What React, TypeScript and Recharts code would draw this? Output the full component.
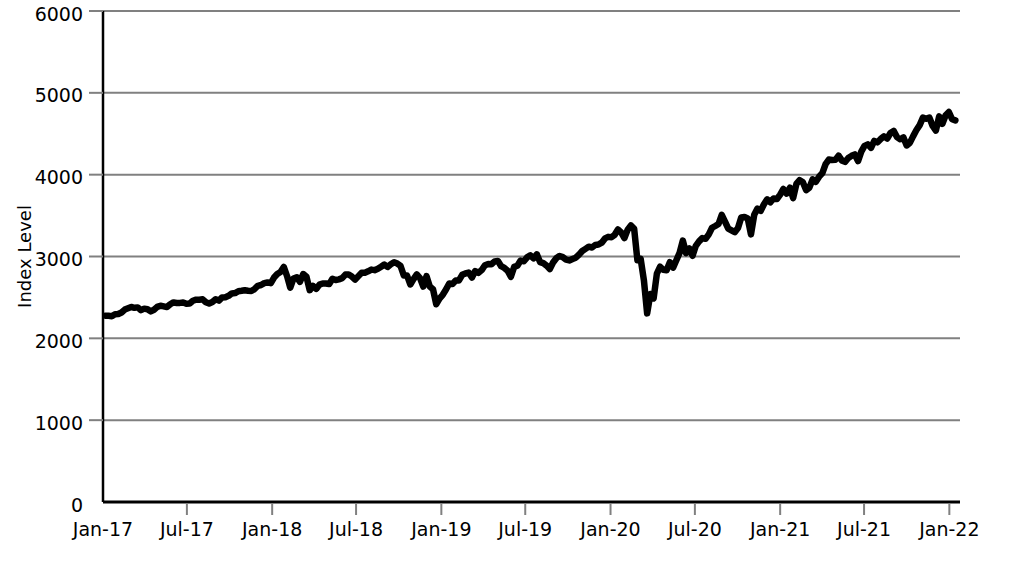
import { LineChart, Line, XAxis, YAxis, CartesianGrid, Label } from "recharts";

// Weekly closes (Friday), first week of each year listed first
const closes2017 = [
  2277, 2275, 2271, 2295, 2297, 2316, 2351, 2367, 2383, 2373, 2378, 2344, 2363,
  2356, 2329, 2349, 2384, 2399, 2391, 2382, 2416, 2439, 2432, 2433, 2438, 2423,
  2425, 2459, 2473, 2472, 2477, 2441, 2425, 2443, 2477, 2461, 2500, 2502, 2519,
  2549, 2553, 2575, 2581, 2588, 2582, 2579, 2602, 2642, 2652, 2675, 2683, 2674,
];
const closes2018 = [
  2743, 2786, 2810, 2873, 2762, 2620, 2732, 2747, 2691, 2786, 2752, 2588, 2641,
  2604, 2656, 2670, 2670, 2663, 2728, 2713, 2721, 2735, 2779, 2780, 2755, 2718,
  2760, 2801, 2802, 2819, 2840, 2833, 2850, 2875, 2902, 2872, 2905, 2930, 2914,
  2885, 2767, 2768, 2658, 2723, 2781, 2736, 2633, 2760, 2633, 2600, 2417, 2486,
];
const closes2019 = [
  2532, 2596, 2671, 2665, 2707, 2708, 2776, 2793, 2804, 2743, 2822, 2800, 2834,
  2893, 2907, 2905, 2940, 2946, 2881, 2860, 2826, 2752, 2873, 2887, 2950, 2942,
  2990, 3014, 2977, 3026, 2932, 2919, 2889, 2847, 2926, 2979, 3007, 2992, 2962,
  2952, 2970, 2986, 3023, 3067, 3093, 3120, 3110, 3141, 3146, 3169, 3221, 3240,
];
const closes2020 = [
  3235, 3265, 3330, 3295, 3226, 3328, 3380, 3338, 2954, 2972, 2711, 2305, 2541,
  2489, 2790, 2875, 2837, 2831, 2930, 2864, 2955, 3044, 3194, 3041, 3098, 3009,
  3130, 3185, 3225, 3216, 3271, 3351, 3373, 3397, 3508, 3427, 3341, 3319, 3298,
  3348, 3477, 3483, 3465, 3270, 3509, 3585, 3558, 3638, 3699, 3663, 3709, 3703,
];
const closes2021 = [
  3756, 3825, 3768, 3841, 3714, 3887, 3934, 3907, 3811, 3842, 3943, 3913, 3975,
  4020, 4129, 4185, 4180, 4181, 4233, 4174, 4156, 4204, 4230, 4247, 4166, 4281,
  4352, 4370, 4327, 4412, 4395, 4437, 4468, 4442, 4509, 4535, 4459, 4433, 4455,
  4357, 4391, 4471, 4545, 4605, 4697, 4683, 4698, 4595, 4538, 4712, 4621, 4726,
  4766,
];
const closes2022 = [4677, 4663];

const firstWeek = Date.UTC(2017, 0, 6);
const DAY = 86400000;

const allCloses = [
  ...closes2017,
  ...closes2018,
  ...closes2019,
  ...closes2020,
  ...closes2021,
  ...closes2022,
];
const data = allCloses.map((v, i) => ({ t: firstWeek + i * 7 * DAY, value: v }));

const tickLabels = [
  "Jan-17", "Jul-17", "Jan-18", "Jul-18", "Jan-19", "Jul-19",
  "Jan-20", "Jul-20", "Jan-21", "Jul-21", "Jan-22",
];
const tickDates = [
  Date.UTC(2017, 0, 1), Date.UTC(2017, 6, 1), Date.UTC(2018, 0, 1), Date.UTC(2018, 6, 1),
  Date.UTC(2019, 0, 1), Date.UTC(2019, 6, 1), Date.UTC(2020, 0, 1), Date.UTC(2020, 6, 1),
  Date.UTC(2021, 0, 1), Date.UTC(2021, 6, 1), Date.UTC(2022, 0, 1),
];
const yTicks = [0, 1000, 2000, 3000, 4000, 5000, 6000];

const FONT = "DejaVu Sans";
const GRID = "#808080";

function XTick(props: any) {
  const { x, y, payload } = props;
  const idx = tickDates.indexOf(payload.value);
  const axisY = y - 21;
  return (
    <g>
      {idx > 0 && <line x1={x} x2={x} y1={axisY + 1} y2={axisY + 13} stroke={GRID} strokeWidth={2} />}
      <text x={x} y={y} dy="0.71em" textAnchor="middle" fontFamily={FONT} fontSize={19} fill="#000">
        {tickLabels[idx]}
      </text>
    </g>
  );
}

function YTick(props: any) {
  const { x, y, payload } = props;
  return (
    <g>
      {payload.value !== 0 && <line x1={x + 6} x2={x + 20} y1={y} y2={y} stroke={GRID} strokeWidth={2} />}
      <text x={x} y={y} dy={9.5} textAnchor="end" fontFamily={FONT} fontSize={19} fill="#000">
        {payload.value}
      </text>
    </g>
  );
}

export default function App() {
  return (
    <div style={{ position: "absolute", left: 0, top: 0 }}>
      <LineChart width={1031} height={573} data={data} margin={{ top: 11, right: 71, bottom: 0, left: 8 }}>
        <CartesianGrid vertical={false} stroke={GRID} strokeWidth={2} />
        <XAxis
          type="number"
          dataKey="t"
          domain={[Date.UTC(2017, 0, 1), Date.UTC(2022, 0, 24)]}
          ticks={tickDates}
          interval={0}
          height={71}
          tickSize={12}
          tickMargin={9}
          tickLine={false}
          axisLine={{ stroke: "#000", strokeWidth: 3 }}
          tick={<XTick />}
        />
        <YAxis
          type="number"
          domain={[0, 6000]}
          ticks={yTicks}
          interval={0}
          width={95}
          tickSize={14}
          tickMargin={6}
          tickLine={false}
          axisLine={{ stroke: "#000", strokeWidth: 2.5 }}
          tick={<YTick />}
        >
          <Label
            value="Index Level"
            angle={-90}
            position="insideLeft"
            offset={17}
            style={{ textAnchor: "middle", fontFamily: FONT, fontSize: 18, fill: "#000" }}
          />
        </YAxis>
        <Line
          type="linear"
          dataKey="value"
          stroke="#000"
          strokeWidth={6.5}
          strokeLinejoin="round"
          strokeLinecap="round"
          dot={false}
          activeDot={false}
          isAnimationActive={false}
        />
      </LineChart>
    </div>
  );
}
